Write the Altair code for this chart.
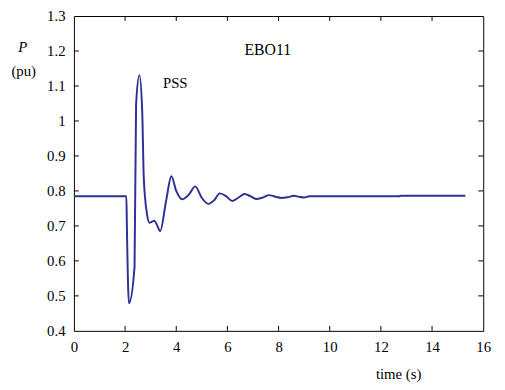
import altair as alt
import pandas as pd

time_s = [0, 2.05, 2.07, 2.15, 2.37, 2.43, 2.56, 2.67, 2.73, 2.86, 2.95, 3.05, 3.14, 3.24, 3.37,
          3.6, 3.81, 4.0, 4.23, 4.5, 4.74, 5.0, 5.26, 5.5, 5.7, 5.95, 6.19, 6.45, 6.67, 6.9,
          7.12, 7.38, 7.63, 7.85, 8.1, 8.35, 8.6, 8.8, 9.0, 9.2, 12.7, 12.8, 15.3]
power_pu = [0.785, 0.785, 0.70, 0.479, 0.583, 1.047, 1.131, 1.027, 0.839, 0.732, 0.709, 0.712, 0.715, 0.704, 0.685,
            0.77, 0.842, 0.80, 0.776, 0.79, 0.813, 0.78, 0.763, 0.775, 0.793, 0.785, 0.771, 0.782, 0.791, 0.785,
            0.777, 0.781, 0.788, 0.784, 0.780, 0.782, 0.786, 0.783, 0.781, 0.785, 0.785, 0.786, 0.786]

x_ticks = [0, 2, 4, 6, 8, 10, 12, 14, 16]
y_ticks = [0.4, 0.5, 0.6, 0.7, 0.8, 0.9, 1.0, 1.1, 1.2, 1.3]

df = pd.DataFrame({"t": time_s, "p": power_pu})
xt = pd.DataFrame({"t": x_ticks[1:-1]})
yt = pd.DataFrame({"p": y_ticks[1:-1]})

FONT = "Liberation Serif"
W, H = 416, 320

xs = alt.Scale(domain=[0, 16], nice=False)
ys = alt.Scale(domain=[0.4, 1.3], nice=False)

common_axis = dict(title=None, grid=False, domain=False, ticks=False, labelPadding=9,
                   labelFontSize=15, labelFont=FONT, labelColor="black", labelFlush=False,
                   labelOverlap=False, labelExpr="datum.value")
x_axis = alt.Axis(values=x_ticks, **common_axis)
y_axis = alt.Axis(values=y_ticks, **common_axis)

line = alt.Chart(df).mark_line(color="#2e3192", strokeWidth=2, interpolate="monotone").encode(
    x=alt.X("t:Q", scale=xs, axis=x_axis),
    y=alt.Y("p:Q", scale=ys, axis=y_axis),
)

tb = alt.Chart(xt).mark_rule(color="black", strokeWidth=1).encode(
    x=alt.X("t:Q", scale=xs, axis=x_axis), y=alt.value(H), y2=alt.value(H - 5))
tt = alt.Chart(xt).mark_rule(color="black", strokeWidth=1).encode(
    x=alt.X("t:Q", scale=xs, axis=x_axis), y=alt.value(0), y2=alt.value(5))
tl = alt.Chart(yt).mark_rule(color="black", strokeWidth=1).encode(
    y=alt.Y("p:Q", scale=ys, axis=y_axis), x=alt.value(0), x2=alt.value(5))
tr = alt.Chart(yt).mark_rule(color="black", strokeWidth=1).encode(
    y=alt.Y("p:Q", scale=ys, axis=y_axis), x=alt.value(W), x2=alt.value(W - 5))

def txt(s, x, y, size=15, style="normal"):
    return alt.Chart(pd.DataFrame({"s": [s]})).mark_text(
        font=FONT, fontSize=size, fontStyle=style, color="black", align="center", baseline="middle"
    ).encode(text="s:N", x=alt.value(x), y=alt.value(y))

labels = [
    txt("EBO11", 272 - 75, 48 - 13, 16),
    txt("PSS", 178 - 75, 81 - 13, 15),
    txt("P", 23 - 75, 45 - 13, 15, "italic"),
    txt("(pu)", 24 - 75, 69 - 13, 15),
    txt("time (s)", 405 - 75, 377 - 13, 15),
]

chart = alt.layer(line, tb, tt, tl, tr, *labels).properties(
    width=W, height=H,
    autosize=alt.AutoSizeParams(type="none"),
    padding={"left": 67, "top": 5, "right": 14, "bottom": 60},
    background="white",
).configure_view(stroke="black", strokeWidth=1)

chart.save("out.html", embed_options={"renderer": "svg", "actions": False})
